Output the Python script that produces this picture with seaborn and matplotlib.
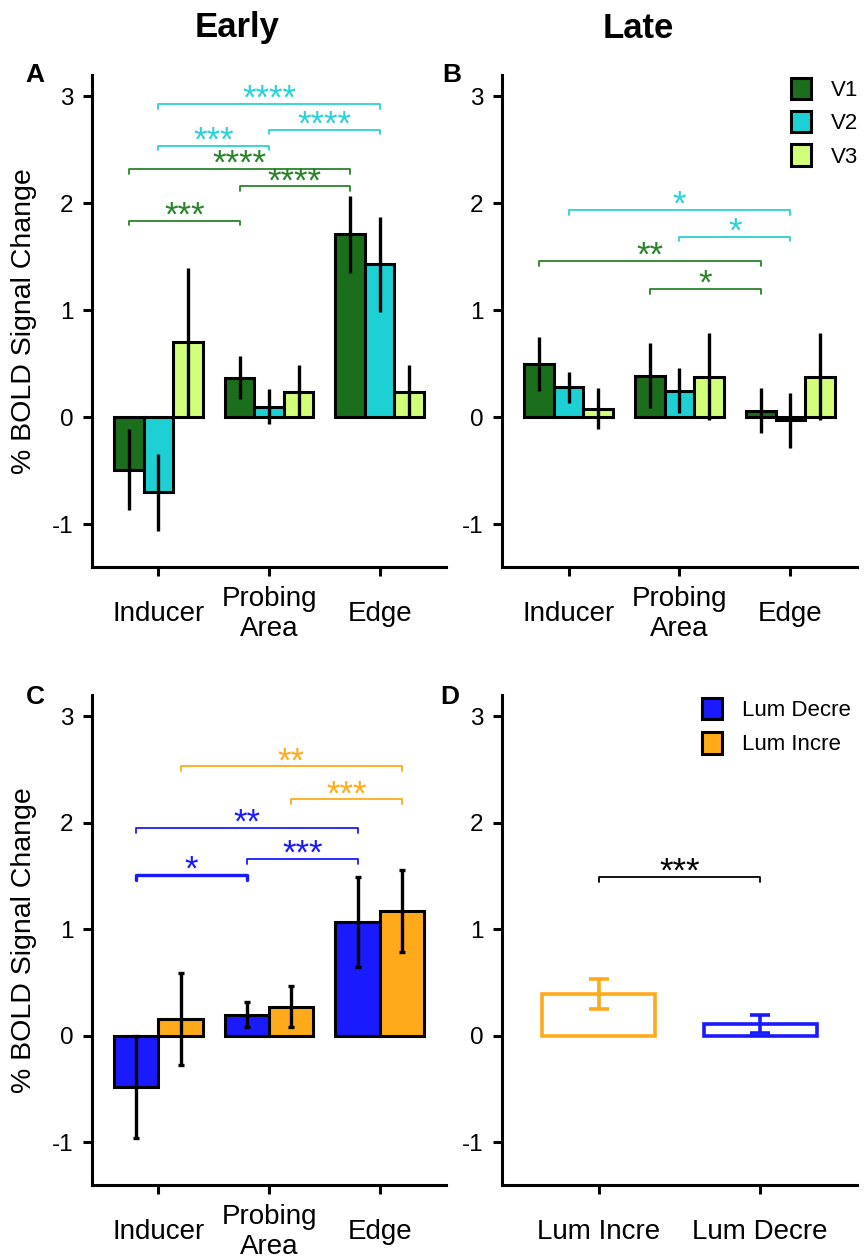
import numpy as np
import pandas as pd
import matplotlib
matplotlib.use("Agg")
import matplotlib.pyplot as plt
import seaborn as sns

sns.set_style("ticks")
plt.rcParams['font.family'] = ['Liberation Sans', 'DejaVu Sans']
plt.rcParams['axes.unicode_minus'] = False
plt.rcParams['text.color'] = 'black'
plt.rcParams['axes.labelcolor'] = 'black'
plt.rcParams['axes.edgecolor'] = 'black'
plt.rcParams['xtick.color'] = 'black'
plt.rcParams['ytick.color'] = 'black'

### DATA
regions = ["Inducer", "Probing\nArea", "Edge"]

areas = ["V1", "V2", "V3"]
area_colors = ["#1b6e1b", "#1dd0d4", "#d2ff7a"]

# Early (A), one list per area in region order
early_v1 = [-0.49, 0.37, 1.71]
early_v2 = [-0.70, 0.10, 1.43]
early_v3 = [0.70, 0.24, 0.24]
early_v1_err = [0.38, 0.20, 0.36]
early_v2_err = [0.36, 0.165, 0.445]
early_v3_err = [0.70, 0.25, 0.25]

# Late (B)
late_v1 = [0.50, 0.39, 0.06]
late_v2 = [0.28, 0.25, -0.03]
late_v3 = [0.08, 0.38, 0.38]
late_v1_err = [0.255, 0.30, 0.21]
late_v2_err = [0.145, 0.21, 0.255]
late_v3_err = [0.19, 0.41, 0.41]

# Luminance (C)
lum_levels = ["Lum Decre", "Lum Incre"]
lum_colors = ["#1a1aff", "#ffaa1a"]
lum_decre = [-0.48, 0.20, 1.07]
lum_incre = [0.16, 0.275, 1.17]
lum_decre_err = [0.475, 0.12, 0.425]
lum_incre_err = [0.435, 0.19, 0.385]

# Luminance, late (D)
late_lum = ["Lum Incre", "Lum Decre"]
late_lum_colors = ["#ffaa1a", "#1a1aff"]
late_lum_mean = [0.39, 0.115]
late_lum_err = [0.14, 0.085]

# significance brackets: (group, from region, to region, height, stars)
sig_early = [("V2", 0, 2, 2.93, "****"), ("V2", 1, 2, 2.69, "****"),
             ("V2", 0, 1, 2.54, "***"), ("V1", 0, 2, 2.32, "****"),
             ("V1", 1, 2, 2.16, "****"), ("V1", 0, 1, 1.84, "***")]
sig_late = [("V2", 0, 2, 1.94, "*"), ("V2", 1, 2, 1.69, "*"),
            ("V1", 0, 2, 1.46, "**"), ("V1", 1, 2, 1.20, "*")]
sig_lum = [("Lum Incre", 0, 2, 2.53, "**"), ("Lum Incre", 1, 2, 2.22, "***"),
           ("Lum Decre", 0, 2, 1.95, "**"), ("Lum Decre", 1, 2, 1.66, "***"),
           ("Lum Decre", 0, 1, 1.51, "*")]
sig_late_lum = [(0, 1, 1.49, "***")]

bracket_colors = {"V1": "#2a852a", "V2": "#2ad2d8",
                  "Lum Decre": "#1a1aff", "Lum Incre": "#ffaa1a"}


def long_df(levels, values, errors):
    rows = []
    for lev, vals, errs in zip(levels, values, errors):
        for reg, v, e in zip(regions, vals, errs):
            rows.append({"region": reg, "group": lev, "value": v, "err": e})
    return pd.DataFrame(rows)


def bracket(ax, x1, x2, y, stars, color, lw=1.3):
    ax.plot([x1, x1, x2, x2], [y - 0.045, y, y, y - 0.045], color = color, lw = lw)
    ax.annotate(stars, xy = ((x1 + x2) / 2, y), xytext = (0, -3.5), textcoords = "offset points",
                ha = "center", va = "baseline", color = color, fontsize = 25)


def grouped_panel(ax, df, levels, colors, sig, capsize):
    sns.barplot(data = df, x = "region", y = "value", hue = "group", order = regions,
                hue_order = levels, palette = colors, saturation = 1, errorbar = None,
                edgecolor = "black", linewidth = 2.2, ax = ax)
    centers = {}
    for lev, cont in zip(levels, ax.containers):
        xs = [b.get_x() + b.get_width() / 2 for b in cont]
        centers[lev] = xs
        sub = df[df["group"] == lev].set_index("region").loc[regions]
        ax.errorbar(xs, sub["value"], yerr = sub["err"], fmt = "none", ecolor = "black",
                    elinewidth = 2.4, capsize = capsize, capthick = 2.4, zorder = 5)
    for lev, a, b, y, stars in sig:
        lw = 2.4 if (capsize > 0 and stars == "*") else 1.3
        bracket(ax, centers[lev][a], centers[lev][b], y, stars, bracket_colors[lev], lw)


fig = plt.figure(figsize = (8.65, 12.58), dpi = 100)
axA = fig.add_axes([0.1064, 0.5493, 0.4093, 0.391])
axB = fig.add_axes([0.5803, 0.5493, 0.4104, 0.391])
axC = fig.add_axes([0.1064, 0.058, 0.4093, 0.3895])
axD = fig.add_axes([0.5803, 0.058, 0.4104, 0.3895])

early = long_df(areas, [early_v1, early_v2, early_v3], [early_v1_err, early_v2_err, early_v3_err])
late = long_df(areas, [late_v1, late_v2, late_v3], [late_v1_err, late_v2_err, late_v3_err])
lum = long_df(lum_levels, [lum_decre, lum_incre], [lum_decre_err, lum_incre_err])

grouped_panel(axA, early, areas, area_colors, sig_early, 0)
grouped_panel(axB, late, areas, area_colors, sig_late, 0)
grouped_panel(axC, lum, lum_levels, lum_colors, sig_lum, 2.5)

# D: hollow bars
sns.barplot(x = late_lum, y = late_lum_mean, hue = late_lum, palette = late_lum_colors,
            fill = False, saturation = 1, width = 0.7, linewidth = 2.6, errorbar = None,
            legend = False, ax = axD)
d_centers = []
for p, m, e, c in zip(sorted(axD.patches, key = lambda q: q.get_x()), late_lum_mean,
                      late_lum_err, late_lum_colors):
    xc = p.get_x() + p.get_width() / 2
    d_centers.append(xc)
    axD.errorbar(xc, m, yerr = e, fmt = "none", ecolor = c, elinewidth = 2.6,
                 capsize = 7, capthick = 2.6, zorder = 5)
for a, b, y, stars in sig_late_lum:
    bracket(axD, d_centers[a], d_centers[b], y, stars, "black")

# legends
hB, lB = axB.get_legend_handles_labels()
hC, lC = axC.get_legend_handles_labels()
for ax in [axA, axB, axC]:
    if ax.get_legend() is not None:
        ax.get_legend().remove()
axB.legend(hB, lB, loc = "upper right", bbox_to_anchor = (1.06, 1.035), frameon = False,
           fontsize = 16, handlelength = 0.9, handleheight = 1.1, handletextpad = 0.9,
           labelspacing = 0.45)
axD.legend(hC, lC, loc = "upper right", bbox_to_anchor = (1.04, 1.035), frameon = False,
           fontsize = 16, handlelength = 0.9, handleheight = 1.1, handletextpad = 0.9,
           labelspacing = 0.5)

# axes styling
for ax in [axA, axB, axC, axD]:
    sns.despine(ax = ax)
    ax.set_ylim(-1.4, 3.2)
    ax.set_yticks([-1, 0, 1, 2, 3])
    ax.set_yticklabels(["-1", "0", "1", "2", "3"])
    for s in ["left", "bottom"]:
        ax.spines[s].set_linewidth(2.2)
        ax.spines[s].set_color("black")
    ax.tick_params(axis = "both", width = 2.2, length = 6.5, color = "black", labelcolor = "black")
    ax.tick_params(axis = "y", labelsize = 17.5, pad = 7)
    ax.tick_params(axis = "x", labelsize = 20, pad = 27)
    ax.set_xlabel("")
    ax.set_ylabel("")

for ax in [axA, axB, axC]:
    ax.set_xlim(-0.6, 2.6)
    ax.set_xticks(range(3))
    ax.set_xticklabels(regions, va = "center", multialignment = "center")
axD.set_xlim(-0.6, 1.6)
axD.set_xticks(range(2))
axD.set_xticklabels(late_lum, va = "center")

for ax in [axA, axC]:
    ax.set_ylabel("% BOLD Signal Change", fontsize = 20.5, color = "black")
    ax.yaxis.set_label_coords(-0.155, 0.5)

# titles and panel letters
title_font = ['Liberation Sans Narrow', 'Liberation Sans', 'DejaVu Sans']
fig.text(0.274, 1 - 28 / 1258, "Early", ha = "center", va = "center", fontsize = 25,
         fontweight = "bold", family = title_font)
fig.text(0.7376, 1 - 28 / 1258, "Late", ha = "center", va = "center", fontsize = 25,
         fontweight = "bold", family = title_font)
for letter, (px, py) in zip("ABCD", [(35, 75), (452, 75), (35, 697), (450, 697)]):
    fig.text(px / 865, 1 - py / 1258, letter, ha = "center", va = "center", fontsize = 19,
             fontweight = "bold")

fig.savefig("out.png", dpi = 100)
